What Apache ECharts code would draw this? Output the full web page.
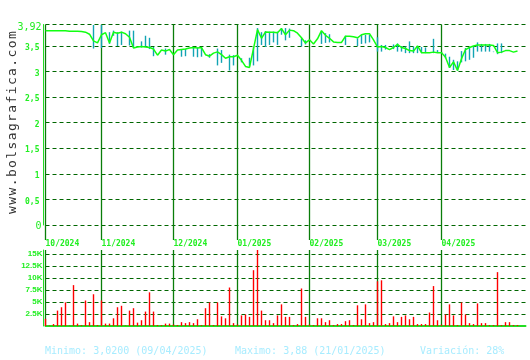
<!DOCTYPE html>
<html><head><meta charset="utf-8">
<script src="https://cdn.jsdelivr.net/npm/echarts@6/dist/echarts.min.js"></script>
<style>html,body{margin:0;padding:0;background:#fff}#c{width:530px;height:360px}</style>
</head><body><div id="c"></div>
<script>
// ---- data ----
const closePrice = [
 3.80,3.80,3.80,3.80,3.80,3.80,3.79,3.79,3.79,3.785,
 3.77,3.73,3.60,3.56,3.72,3.76,3.56,3.77,3.75,3.77,
 3.74,3.67,3.46,3.48,3.49,3.48,3.47,3.44,3.32,3.42,
 3.40,3.43,3.33,3.42,3.43,3.44,3.46,3.47,3.46,3.47,
 3.33,3.30,3.36,3.385,3.33,3.26,3.29,3.29,3.32,3.22,
 3.10,3.08,3.45,3.82,3.65,3.775,3.77,3.77,3.76,3.84,
 3.72,3.81,3.80,3.75,3.66,3.56,3.62,3.54,3.64,3.80,
 3.71,3.65,3.58,3.57,3.57,3.69,3.69,3.68,3.66,3.72,
 3.74,3.74,3.62,3.48,3.49,3.47,3.43,3.47,3.53,3.47,
 3.45,3.41,3.40,3.50,3.37,3.37,3.37,3.38,3.37,3.37,
 3.28,3.08,3.19,3.02,3.25,3.43,3.47,3.50,3.52,3.52,
 3.52,3.52,3.51,3.37,3.38,3.41,3.41,3.38,3.40
];
const hlIdx  = [12,14,16,17,18,19,21,22,24,25,26,27,30,34,35,37,38,39,41,43,44,46,47,49,51,52,53,54,55,56,57,58,59,60,61,64,65,69,70,71,75,78,79,80,81,83,84,85,87,88,89,90,91,92,93,94,95,97,98,99,100,101,102,103,104,105,106,107,108,109,110,111,112,113,114];
const hlHigh = [3.91,3.91,3.77,3.80,3.77,3.78,3.80,3.80,3.59,3.70,3.66,3.48,3.45,3.43,3.44,3.47,3.47,3.47,3.34,3.45,3.42,3.33,3.32,3.26,3.27,3.48,3.85,3.77,3.79,3.78,3.78,3.78,3.85,3.85,3.84,3.65,3.61,3.78,3.75,3.73,3.70,3.65,3.72,3.72,3.72,3.67,3.52,3.52,3.53,3.55,3.50,3.49,3.59,3.49,3.50,3.48,3.47,3.64,3.42,3.38,3.35,3.29,3.23,3.20,3.40,3.46,3.47,3.50,3.57,3.54,3.54,3.54,3.39,3.55,3.55];
const hlLow  = [3.45,3.46,3.54,3.70,3.50,3.52,3.51,3.47,3.47,3.49,3.44,3.30,3.33,3.29,3.30,3.29,3.28,3.29,3.27,3.12,3.17,3.02,3.12,3.18,3.10,3.12,3.20,3.52,3.48,3.52,3.57,3.52,3.72,3.61,3.66,3.49,3.53,3.54,3.56,3.57,3.52,3.50,3.54,3.55,3.57,3.39,3.39,3.43,3.44,3.39,3.39,3.36,3.36,3.36,3.36,3.36,3.36,3.36,3.37,3.36,3.26,3.07,3.03,3.02,3.18,3.20,3.23,3.27,3.39,3.39,3.39,3.39,3.38,3.34,3.36];
const volume = [
 1500,100,400,3200,3900,4900,100,8500,500,200,
 5300,800,6600,200,5300,500,500,1600,3900,4200,
 100,3200,3700,700,1200,3000,7000,3000,200,200,
 500,500,300,200,800,600,800,600,1400,200,
 3700,4900,200,4900,2000,1600,8000,600,300,2200,
 2400,1900,11600,15800,3200,1200,1200,600,2200,4500,
 1900,1900,200,400,7800,1900,300,200,1600,1600,
 800,1200,200,400,400,1000,1200,200,4300,1400,
 4500,600,800,9300,9500,400,600,2000,800,1900,
 2200,1400,1900,400,400,400,2800,8300,1200,300,
 2400,4500,2200,200,4900,2400,600,400,4700,600,
 600,200,200,11200,200,800,800,200,200
];
const monthIdx = [0,14,32,48,66,83,99];
const monthLabels = ['10/2024','11/2024','12/2024','01/2025','02/2025','03/2025','04/2025'];
const priceMax = 3.92;
const priceStep = 0.5;
const volMax = 15800;
const volStep = 2500;
const statsText = ['Minimo: 3,0200 (09/04/2025)','Maximo: 3,88 (21/01/2025)','Variación: 28%'];
const watermark = 'www.bolsagrafica.com';

// ---- chart ----
const N = 121;
const cats = Array.from({length:N},(_,i)=>String(i));
const LIME = '#22ee22', AXIS = '#22dd22', GRIDC = '#006600', MONTHC = '#0a7d0a';
const isMonth = (i)=>monthIdx.indexOf(i) >= 0;
const dash = {show:true,lineStyle:{color:GRIDC,width:1,type:[4,3]}};
function monthSplit(){ return {show:true,interval:(i)=>isMonth(i),lineStyle:{color:MONTHC,width:1.3}}; }

const graphics = [];
const wmPitch = 9.2;
for (let k = 0; k < watermark.length; k++) {
  graphics.push({type:'text', x:12.5, y:210 - k*wmPitch, rotation:Math.PI/2,
    style:{text:watermark[k], font:'13px "DejaVu Sans Mono"', fill:'#333', textAlign:'center', textVerticalAlign:'middle'}});
}
const statsX = [45,235,420];
statsText.forEach((t,k)=>graphics.push({type:'text', x:statsX[k], y:351.5,
  style:{text:t, font:'10px "DejaVu Sans Mono"', fill:'#a8ecff', textVerticalAlign:'middle'}}));

const chart = echarts.init(document.getElementById('c'), null, {renderer:'canvas'});
chart.setOption({
  animation:false,
  backgroundColor:'#ffffff',
  grid:[
    {left:45.5, width:480, top:24.5, height:200.5},
    {left:45.5, width:480, top:24.5, height:215.5},
    {left:45.5, width:480, top:250, height:76}
  ],
  xAxis:[
    {gridIndex:0, type:'category', data:cats, boundaryGap:false, axisLine:{show:false}, axisTick:{show:false}, axisLabel:{show:false}, splitLine:{show:false}},
    {gridIndex:1, type:'category', data:cats, boundaryGap:false, axisLine:{show:false}, axisTick:{show:false},
      axisLabel:{interval:(i)=>isMonth(i), formatter:(v,i)=>monthLabels[monthIdx.indexOf(+v)] || '', align:'left', margin:0,
        color:LIME, fontFamily:'DejaVu Sans Mono', fontSize:8, fontWeight:'bold'},
      splitLine:monthSplit()},
    {gridIndex:2, type:'category', data:cats, boundaryGap:false, axisLine:{show:true, lineStyle:{color:AXIS,width:2}}, axisTick:{show:false}, axisLabel:{show:false}, splitLine:monthSplit()}
  ],
  yAxis:[
    {gridIndex:0, type:'value', min:0, max:priceMax, interval:priceStep, offset:2,
      axisLine:{show:true, lineStyle:{color:AXIS,width:1}}, axisTick:{show:false}, splitLine:dash,
      axisLabel:{margin:2, formatter:(v)=>{
        const s = String(+v.toFixed(2)).replace('.',',');
        if (Math.abs(v-priceMax)<1e-9) return '{mx|'+s+'}';
        if (v===0) return '{zr|'+s+'}';
        return '{sm|'+s+'}';
      }, rich:{
        sm:{fontFamily:'DejaVu Sans Mono', fontSize:8, fontWeight:'bold', color:LIME, padding:[4,2,0,0]},
        mx:{fontFamily:'DejaVu Sans Mono', fontSize:10, color:LIME, padding:[6,0,0,0]},
        zr:{fontFamily:'DejaVu Sans Mono', fontSize:10, color:LIME, padding:[3,0,0,0]}
      }}},
    {gridIndex:1, type:'value', show:false, splitLine:{show:false}},
    {gridIndex:2, type:'value', min:0, max:volMax, interval:volStep, offset:2,
      axisLine:{show:true, lineStyle:{color:AXIS,width:1}}, axisTick:{show:false},
      splitLine:{show:true, showMinLine:false, showMaxLine:false, lineStyle:{color:GRIDC,width:1,type:[4,3]}},
      axisLabel:{showMinLabel:false, showMaxLabel:false, margin:1, formatter:(v)=>(v/1000)+'K',
        fontFamily:'Liberation Sans', fontWeight:'bold', fontSize:8, color:LIME}}
  ],
  series:[
    {type:'custom', xAxisIndex:0, yAxisIndex:0, z:2,
      data: hlIdx.map((i,k)=>[i, hlHigh[k], hlLow[k]]),
      renderItem:(params, api)=>{
        const p1 = api.coord([api.value(0), api.value(1)]);
        const p2 = api.coord([api.value(0), api.value(2)]);
        return {type:'line', shape:{x1:p1[0], y1:p1[1], x2:p2[0], y2:p2[1]}, style:{stroke:'#12a4b4', lineWidth:1.4}};
      }},
    {type:'line', xAxisIndex:0, yAxisIndex:0, z:3, data:closePrice, symbol:'none',
      lineStyle:{color:'#11ff11', width:1.5}},
    {type:'bar', xAxisIndex:2, yAxisIndex:2, data:volume, barWidth:1.4, clip:false,
      itemStyle:{color:'#ff0000'}}
  ],
  graphic:graphics
});
</script></body></html>
